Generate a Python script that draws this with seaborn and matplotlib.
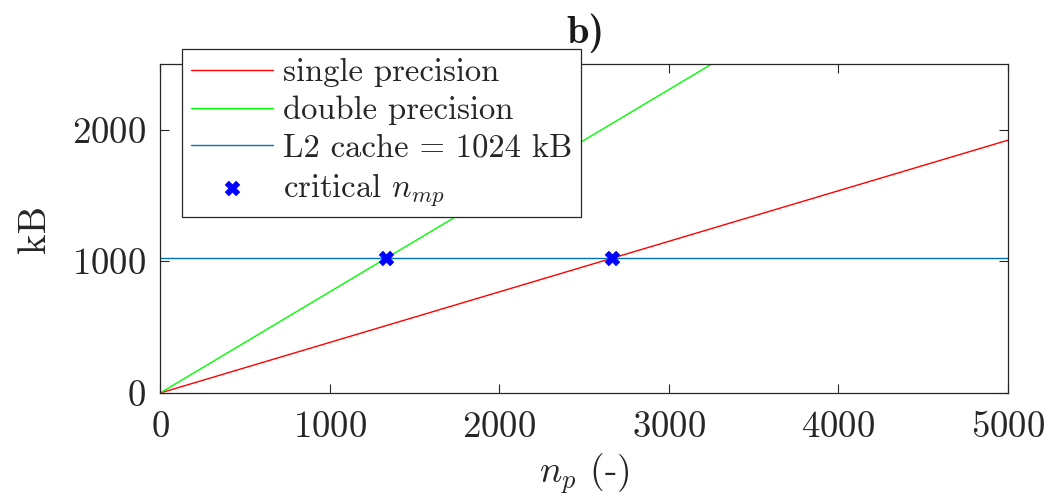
import numpy as np
import pandas as pd
import seaborn as sns
import matplotlib.pyplot as plt

# values
n_p = [0, 5000]
kb_single = [0, 1920]
kb_double = [0, 3840]
cache_kb = 1024
crit_n = [1333, 2667]
crit_kb = [1024, 1024]

sns.set_style("ticks")
plt.rcParams['font.family'] = ['cmr10', 'DejaVu Serif']
plt.rcParams['mathtext.fontset'] = 'cm'
plt.rcParams['axes.unicode_minus'] = False
plt.rcParams['axes.formatter.use_mathtext'] = True

fig = plt.figure(figsize=(10.53, 5.04), dpi=100)
ax = fig.add_axes([0.152, 0.2202, 0.805, 0.653])

lines = pd.DataFrame({'n': n_p, 'single': kb_single, 'double': kb_double})
sns.lineplot(data=lines, x='n', y='single', color='#ff0000', lw=1.0, ax=ax, label='single precision')
sns.lineplot(data=lines, x='n', y='double', color='#00ff00', lw=1.0, ax=ax, label='double precision')
ax.axhline(cache_kb, color='#0072BD', lw=1.0, label='L2 cache = 1024 kB')
sns.scatterplot(x=crit_n, y=crit_kb, marker='X', s=110, color='#0000ff', edgecolor='#0000ff',
                linewidth=0.5, ax=ax, label='critical $n_{mp}$', zorder=5)

ax.set_xlim(0, 5000)
ax.set_ylim(0, 2500)
ax.set_xticks([0, 1000, 2000, 3000, 4000, 5000])
ax.set_yticks([0, 1000, 2000])
ax.tick_params(direction='in', top=True, right=True, length=6.5, width=0.8,
               labelsize=26.5, colors='#262626')
ax.tick_params(axis='x', pad=13)
ax.tick_params(axis='y', pad=10)
for s in ax.spines.values():
    s.set_color('#262626')
    s.set_linewidth(0.9)

ax.set_xlabel('$n_p$ (-)', fontsize=27, color='#262626', labelpad=5)
ax.set_ylabel('kB', fontsize=28, color='#262626', labelpad=14)
fig.text(0.556, 0.935, 'b)', fontsize=29, ha='center', va='center',
         family=['cmb10', 'DejaVu Serif'], color='#1a1a1a')

leg = ax.legend(loc='upper left', bbox_to_anchor=(0.173, 0.903), bbox_transform=fig.transFigure,
                borderaxespad=0, fontsize=23.5, frameon=True, fancybox=False, framealpha=1,
                edgecolor='#262626', handlelength=2.5, handletextpad=0.3,
                labelspacing=0.26, borderpad=0.28)
leg.get_frame().set_linewidth(0.9)
leg.set_zorder(10)

fig.savefig('out.png', dpi=100)
